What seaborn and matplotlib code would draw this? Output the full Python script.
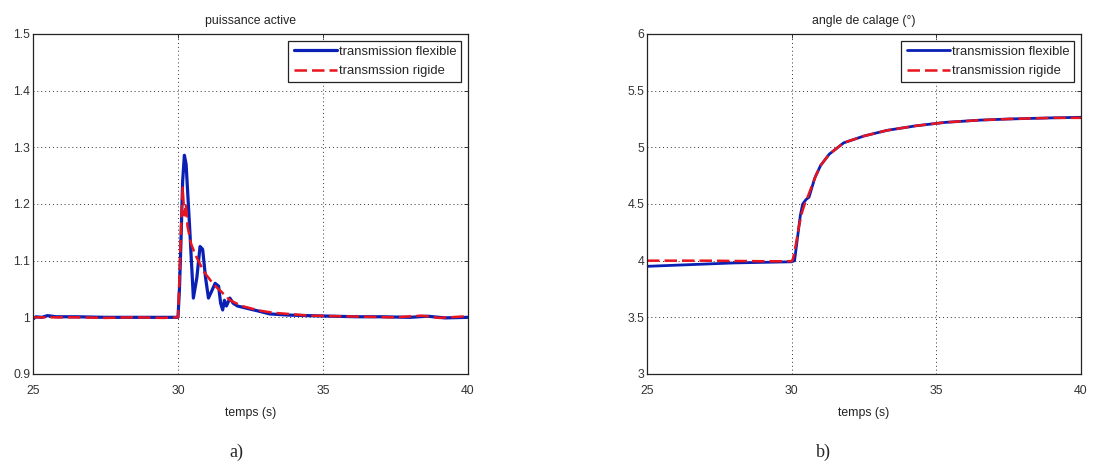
import matplotlib
matplotlib.use("Agg")
import matplotlib.pyplot as plt
import seaborn as sns

# --- data ---
# a) puissance active
t_flex_p = [25.0, 25.1, 25.3, 25.5, 25.8, 26.5, 27.5, 28.5, 29.5, 30.0, 30.05, 30.1, 30.16,
            30.22, 30.28, 30.4, 30.53, 30.65, 30.76, 30.85, 30.95, 31.05, 31.15, 31.28,
            31.4, 31.47, 31.54, 31.6, 31.67, 31.79, 31.9, 32.05, 32.37, 32.7, 33.17,
            33.8, 34.5, 35.3, 36.2, 37.0, 38.0, 38.6, 39.2, 40.0]
p_flex = [0.997, 1.001, 1.000, 1.003, 1.001, 1.001, 1.000, 1.000, 1.000, 1.000, 1.05, 1.13, 1.24,
          1.286, 1.27, 1.16, 1.034, 1.07, 1.125, 1.12, 1.07, 1.034, 1.045, 1.06,
          1.055, 1.025, 1.013, 1.03, 1.02, 1.034, 1.025, 1.02, 1.016, 1.012, 1.006,
          1.004, 1.003, 1.002, 1.001, 1.001, 1.000, 1.002, 0.999, 1.000]

t_rig_p = [25.0, 25.5, 26.5, 27.5, 28.5, 29.5, 30.0, 30.05, 30.1, 30.16, 30.22, 30.27,
           30.33, 30.45, 30.6, 30.75, 30.9, 31.05, 31.2, 31.35, 31.5, 31.65, 31.8, 32.0,
           32.2, 32.5, 32.8, 33.3, 33.8, 34.5, 35.5, 36.5, 37.5, 38.4, 39.0, 40.0]
p_rig = [1.000, 1.000, 1.000, 0.999, 1.000, 0.999, 1.000, 1.07, 1.15, 1.229, 1.18, 1.20,
         1.16, 1.13, 1.11, 1.095, 1.08, 1.07, 1.06, 1.052, 1.045, 1.037, 1.03, 1.025,
         1.02, 1.016, 1.012, 1.008, 1.006, 1.003, 1.002, 1.001, 1.000, 1.003, 0.999, 1.002]

# b) angle de calage (deg)
t_flex_b = [25.0, 26.0, 27.0, 28.0, 29.0, 30.0, 30.1, 30.2, 30.3, 30.38, 30.5, 30.6,
            30.8, 31.0, 31.3, 31.8, 32.5, 33.3, 34.3, 35.3, 36.5, 37.5, 39.0, 40.0]
b_flex = [3.95, 3.96, 3.97, 3.98, 3.985, 3.99, 4.0, 4.2, 4.4, 4.5, 4.54, 4.56,
          4.73, 4.84, 4.94, 5.04, 5.10, 5.15, 5.19, 5.22, 5.24, 5.25, 5.26, 5.265]

t_rig_b = [25.0, 27.0, 29.0, 30.0, 30.05, 30.15, 30.25, 30.35, 30.45, 30.55, 30.7,
           30.85, 31.0, 31.3, 31.8, 32.5, 33.3, 34.3, 35.3, 36.5, 37.5, 39.0, 40.0]
b_rig = [4.00, 4.00, 3.995, 3.995, 4.02, 4.15, 4.3, 4.42, 4.5, 4.56, 4.66,
         4.76, 4.84, 4.94, 5.04, 5.10, 5.15, 5.19, 5.22, 5.24, 5.25, 5.26, 5.26]

xticks = [25, 30, 35, 40]
yticks_a = [0.9, 1.0, 1.1, 1.2, 1.3, 1.4, 1.5]
yticklabels_a = ["0.9", "1", "1.1", "1.2", "1.3", "1.4", "1.5"]
yticks_b = [3, 3.5, 4, 4.5, 5, 5.5, 6]
yticklabels_b = ["3", "3.5", "4", "4.5", "5", "5.5", "6"]

sns.set_style("white")
plt.rcParams['font.family'] = ['Liberation Sans', 'DejaVu Sans']

BLUE = "#0a1fb4"
RED = "#e8141e"
FS = 8.8
DASH = [5, 2]

fig = plt.figure(figsize=(10.93, 4.71), dpi=100)
ax1 = fig.add_axes([33 / 1093, 97 / 471, 435 / 1093, 340 / 471])
ax2 = fig.add_axes([647 / 1093, 97 / 471, 434 / 1093, 340 / 471])


def style_axis(ax, title, yticks, yticklabels, ylim):
    ax.set_xlim(25, 40)
    ax.set_ylim(*ylim)
    ax.set_xticks(xticks)
    ax.set_xticklabels([str(x) for x in xticks], fontsize=FS)
    ax.set_yticks(yticks)
    ax.set_yticklabels(yticklabels, fontsize=FS)
    ax.tick_params(direction="in", length=3, width=0.7, top=True, right=True,
                   colors="#333333")
    ax.tick_params(axis="x", pad=8)
    ax.tick_params(axis="y", pad=2)
    ax.grid(True, linestyle=(0, (1, 3)), color="#333333", linewidth=0.7)
    for sp in ax.spines.values():
        sp.set_color("#222222")
        sp.set_linewidth(0.9)
    ax.set_title(title, fontsize=FS, color="#222222", pad=7)
    ax.set_xlabel("temps (s)", fontsize=FS, color="#222222", labelpad=7)
    ax.set_ylabel("")


sns.lineplot(x=t_flex_p, y=p_flex, ax=ax1, color=BLUE, linewidth=2.3,
             label="transmission flexible")
sns.lineplot(x=t_rig_p, y=p_rig, ax=ax1, color=RED, linewidth=1.8,
             label="transmssion rigide")
style_axis(ax1, "puissance active", yticks_a, yticklabels_a, (0.9, 1.5))
ax1.lines[1].set_dashes(DASH)

sns.lineplot(x=t_flex_b, y=b_flex, ax=ax2, color=BLUE, linewidth=2.0,
             label="transmission flexible")
sns.lineplot(x=t_rig_b, y=b_rig, ax=ax2, color=RED, linewidth=1.8,
             label="transmission rigide")
style_axis(ax2, "angle de calage (°)", yticks_b, yticklabels_b, (3, 6))
ax2.lines[1].set_dashes(DASH)

for ax in (ax1, ax2):
    leg = ax.legend(loc="upper right", fontsize=9.4, frameon=True, fancybox=False,
                    handlelength=3.3, handletextpad=0.15, borderaxespad=0.5,
                    borderpad=0.4, labelspacing=0.55)
    leg.get_frame().set_edgecolor("#222222")
    leg.get_frame().set_linewidth(0.9)
    leg.get_frame().set_alpha(1)
    leg.legend_handles[1].set_dashes(DASH)

fig.text(236 / 1093, 1 - 452 / 471, "a)", fontsize=13, family="Liberation Serif",
         ha="center", va="center")
fig.text(823 / 1093, 1 - 452 / 471, "b)", fontsize=13, family="Liberation Serif",
         ha="center", va="center")

fig.savefig("out.png", dpi=100, facecolor="white")
